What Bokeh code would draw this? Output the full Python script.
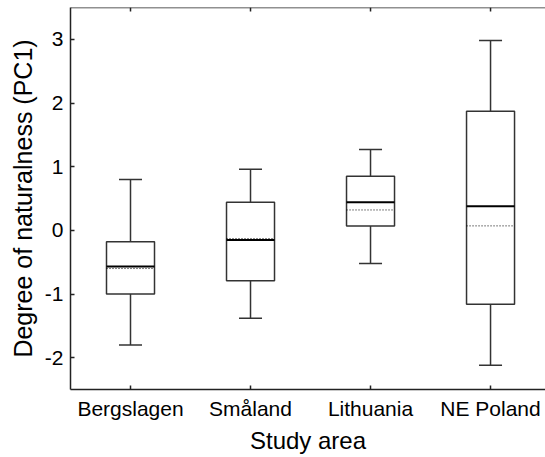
from bokeh.plotting import figure
from bokeh.models import FixedTicker, Whisker, TeeHead, ColumnDataSource, Range1d, Span
from bokeh.embed import file_html
from bokeh.resources import INLINE

categories = ["Bergslagen", "Småland", "Lithuania", "NE Poland"]
upper = [0.80, 0.96, 1.27, 2.98]
q3 = [-0.18, 0.44, 0.85, 1.87]
median = [-0.57, -0.15, 0.44, 0.38]
mean = [-0.60, -0.13, 0.32, 0.07]
q1 = [-1.00, -0.79, 0.07, -1.16]
lower = [-1.80, -1.38, -0.52, -2.12]
y_ticks = [-2, -1, 0, 1, 2, 3]

Y_START, Y_END = -2.5, 3.5
FRAME_H = 457 - 7 - 68
TICK_PX = 4

xs = list(range(1, len(categories) + 1))
box_w = 0.4
src = ColumnDataSource(dict(x=xs, upper=upper, q3=q3, median=median, mean=mean, q1=q1, lower=lower,
                            x0=[x - box_w / 2 for x in xs], x1=[x + box_w / 2 for x in xs]))

FONT = "Liberation Sans"
p = figure(width=545, height=457, output_backend="svg", toolbar_location=None,
           x_range=Range1d(0.5, 4.458), y_range=Range1d(Y_START, Y_END),
           min_border_left=70, min_border_right=0, min_border_top=7, min_border_bottom=68)
p.outline_line_color = None
p.grid.visible = False
p.background_fill_color = "white"
p.border_fill_color = "white"

line_col = "#333333"
w = Whisker(source=src, base="x", upper="upper", lower="lower", line_color=line_col, line_width=1.5,
            upper_head=TeeHead(size=23, line_color=line_col, line_width=1.5),
            lower_head=TeeHead(size=23, line_color=line_col, line_width=1.5))
p.add_layout(w)
p.vbar(x="x", width=box_w, top="q3", bottom="q1", source=src, fill_color="white",
       line_color=line_col, line_width=1.5)
p.segment(x0="x0", x1="x1", y0="median", y1="median", source=src, line_color="black", line_width=2)
p.segment(x0="x0", x1="x1", y0="mean", y1="mean", source=src, line_color="black", line_width=1,
          line_dash="1 2")

# top frame line with inward ticks (no labels)
p.add_layout(Span(location=Y_END, dimension="width", line_color="#222222", line_width=1.5))
tick_len = TICK_PX * (Y_END - Y_START) / FRAME_H
p.segment(x0=xs, x1=xs, y0=[Y_END] * len(xs), y1=[Y_END - tick_len] * len(xs),
          line_color="#222222", line_width=1.5)

xax = p.xaxis[0]
xax.ticker = FixedTicker(ticks=xs)
xax.major_label_overrides = {x: c for x, c in zip(xs, categories)}
xax.axis_label = "Study area"

yax = p.yaxis[0]
yax.ticker = FixedTicker(ticks=y_ticks)
yax.major_label_overrides = {t: str(t) for t in y_ticks}
yax.axis_label = "Degree of naturalness (PC1)"

for ax in [xax, yax]:
    ax.axis_line_color = "#222222"
    ax.axis_line_width = 1.5
    ax.major_tick_in = TICK_PX
    ax.major_tick_out = 0
    ax.major_tick_line_color = "#222222"
    ax.major_tick_line_width = 1.5
    ax.minor_tick_line_color = None
    ax.major_label_text_font = FONT
    ax.major_label_text_font_size = "21px"
    ax.major_label_text_color = "black"
    ax.axis_label_text_font = FONT
    ax.axis_label_text_font_style = "normal"
    ax.axis_label_text_color = "black"

xax.axis_label_text_font_size = "24px"
yax.axis_label_text_font_size = "25px"
xax.major_label_standoff = 7
xax.axis_label_standoff = 4
yax.major_label_standoff = 7
yax.axis_label_standoff = 5

open("out.html", "w").write(file_html(p, INLINE))
